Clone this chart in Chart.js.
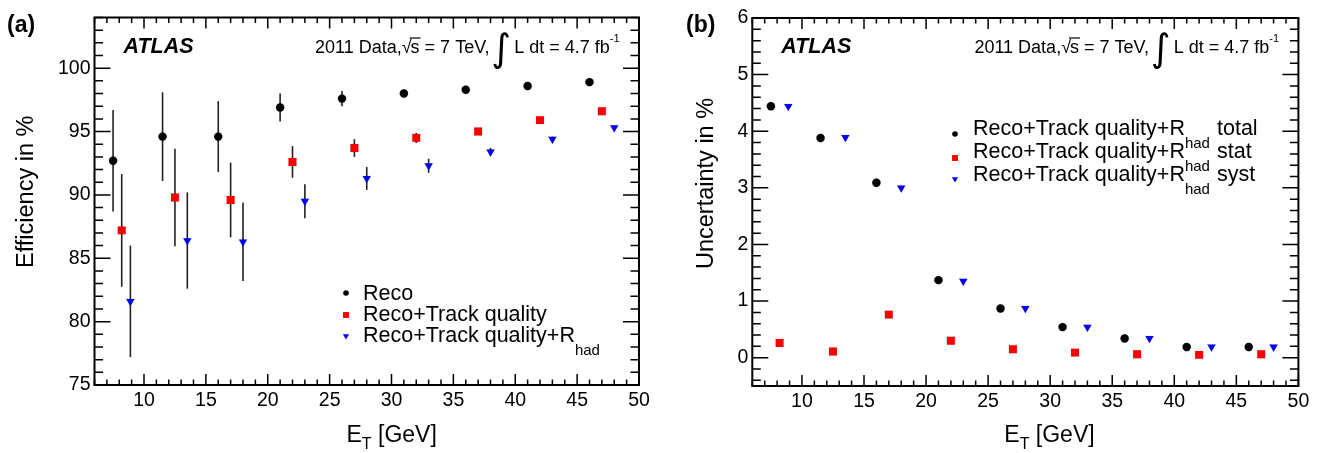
<!DOCTYPE html>
<html lang="en">
<head>
    <meta charset="UTF-8">
    <title>Efficiency and uncertainty vs E_T</title>
    <script src="https://cdn.jsdelivr.net/npm/chart.js"></script>
    <style>
        body {
            margin: 0;
            background-color: #fff;
        }

        .panel {
            position: absolute;
            top: 0;
            width: 659px;
            height: 453px;
        }

        #panelA { left: 0; }
        #panelB { left: 659px; }
    </style>
</head>
<body>
<div class="panel" id="panelA"><canvas id="effChart" width="659" height="453"></canvas></div>
<div class="panel" id="panelB"><canvas id="uncChart" width="659" height="453"></canvas></div>

<script>
    // E_T positions of the three selections (points are shifted inside each bin)
    const etReco  = [7.5, 11.5, 16, 21, 26, 31, 36, 41, 46];
    const etTrack = [8.2, 12.5, 17, 22, 27, 32, 37, 42, 47];
    const etRhad  = [8.9, 13.5, 18, 23, 28, 33, 38, 43, 48];

    // (a) efficiencies in % with total uncertainty
    const effReco  = [92.7, 94.6, 94.6, 96.9, 97.6, 98.0, 98.3, 98.6, 98.9];
    const errReco  = [4.0, 3.5, 2.8, 1.1, 0.6, 0.2, 0.1, 0.1, 0.1];
    const effTrack = [87.2, 89.8, 89.6, 92.6, 93.7, 94.5, 95.0, 95.9, 96.6];
    const errTrack = [4.45, 3.85, 2.95, 1.25, 0.7, 0.4, 0.2, 0.2, 0.15];
    const effRhad  = [81.6, 86.4, 86.3, 89.5, 91.3, 92.3, 93.4, 94.4, 95.3];
    const errRhad  = [4.4, 3.8, 3.1, 1.35, 0.9, 0.55, 0.3, 0.2, 0.2];

    // (b) uncertainties in % for Reco+Track quality+R_had
    const uncTotal = [4.44, 3.88, 3.09, 1.37, 0.87, 0.54, 0.34, 0.19, 0.19];
    const uncStat  = [0.26, 0.11, 0.76, 0.30, 0.15, 0.09, 0.06, 0.05, 0.06];
    const uncSyst  = [4.44, 3.89, 3.00, 1.35, 0.87, 0.54, 0.34, 0.19, 0.19];

    // tick labels
    const xTickValues  = [10, 15, 20, 25, 30, 35, 40, 45, 50];
    const effTickValues = [75, 80, 85, 90, 95, 100];
    const uncTickValues = [0, 1, 2, 3, 4, 5, 6];

    const FONT = "'Liberation Sans', Arial, Helvetica, sans-serif";

    const toPoints = (xs, ys) => xs.map((x, i) => ({x: x, y: ys[i]}));

    const circleStyle = {pointStyle: 'circle', pointRadius: 4.2, backgroundColor: '#000000', rotation: 0};
    const squareStyle = {pointStyle: 'rect', pointRadius: 5.6, backgroundColor: '#ff0000', rotation: 0};
    const triangleStyle = {pointStyle: 'triangle', pointRadius: 4.8, backgroundColor: '#0000ff', rotation: 180};

    // vertical error bars, drawn under the markers
    const errorBars = {
        id: 'errorBars',
        beforeDatasetsDraw(chart) {
            const ctx = chart.ctx;
            const y = chart.scales.y;
            ctx.save();
            ctx.strokeStyle = '#222222';
            ctx.lineWidth = 1.6;
            chart.data.datasets.forEach((ds, i) => {
                if (!ds.yErr) return;
                chart.getDatasetMeta(i).data.forEach((pt, j) => {
                    const v = ds.data[j].y, e = ds.yErr[j];
                    ctx.beginPath();
                    ctx.moveTo(pt.x, y.getPixelForValue(v - e));
                    ctx.lineTo(pt.x, y.getPixelForValue(v + e));
                    ctx.stroke();
                });
            });
            ctx.restore();
        }
    };

    // ROOT-like frame with inward ticks on all four sides
    const rootFrame = {
        id: 'rootFrame',
        afterDraw(chart, args, opts) {
            const {ctx, chartArea: a, scales: {x, y}} = chart;
            const eachTick = (sc, step, major, fn) => {
                const k0 = Math.ceil(sc.min / step - 1e-9);
                const k1 = Math.floor(sc.max / step + 1e-9);
                const every = Math.round(major / step);
                for (let k = k0; k <= k1; k++) fn(sc.getPixelForValue(k * step), k % every === 0);
            };
            ctx.save();
            ctx.strokeStyle = '#000';
            ctx.lineWidth = 1.5;
            ctx.beginPath();
            eachTick(x, opts.xMinor, opts.xMajor, (px, big) => {
                const l = big ? 11 : 5.5;
                ctx.moveTo(px, a.bottom); ctx.lineTo(px, a.bottom - l);
                ctx.moveTo(px, a.top); ctx.lineTo(px, a.top + l);
            });
            eachTick(y, opts.yMinor, opts.yMajor, (py, big) => {
                const l = big ? 16 : 8.5;
                ctx.moveTo(a.left, py); ctx.lineTo(a.left + l, py);
                ctx.moveTo(a.right, py); ctx.lineTo(a.right - l, py);
            });
            ctx.stroke();
            ctx.lineWidth = 2;
            ctx.strokeRect(a.left, a.top, a.width, a.height);
            ctx.restore();
        }
    };

    // panel label, axis titles, ATLAS text and legend
    const rootText = {
        id: 'rootText',
        afterDraw(chart, args, o) {
            const {ctx, chartArea: a} = chart;
            ctx.save();
            ctx.fillStyle = '#000';
            ctx.textBaseline = 'alphabetic';
            ctx.textAlign = 'left';

            ctx.font = 'bold 23px ' + FONT;
            ctx.fillText(o.panel, o.panelX, 32);

            // x title E_T [GeV]
            let tx = a.left + 252;
            ctx.font = '23px ' + FONT;
            ctx.fillText('E', tx, 442);
            tx += ctx.measureText('E').width;
            ctx.font = '16px ' + FONT;
            ctx.fillText('T', tx, 449);
            tx += ctx.measureText('T').width;
            ctx.font = '23px ' + FONT;
            ctx.fillText(' [GeV]', tx, 442);

            // y title
            ctx.save();
            ctx.translate(o.yTitleX, a.bottom - 117);
            ctx.rotate(-Math.PI / 2);
            ctx.textBaseline = 'middle';
            ctx.font = '23.5px ' + FONT;
            ctx.fillText(o.yTitle, 0, 0);
            ctx.restore();

            // ATLAS
            ctx.font = 'italic bold 21.5px ' + FONT;
            ctx.fillText('ATLAS', a.left + 29, 53);

            // 2011 Data, sqrt(s) = 7 TeV, int L dt = 4.7 fb^-1
            let cx = a.right - 324;
            const by = 53;
            ctx.font = '18px ' + FONT;
            ctx.fillText('2011 Data,', cx, by);
            cx += ctx.measureText('2011 Data,').width;
            ctx.fillText('\u221A', cx, by);
            cx += ctx.measureText('\u221A').width - 1;
            const sW = ctx.measureText('s').width;
            ctx.fillText('s', cx, by);
            ctx.lineWidth = 1.2;
            ctx.beginPath();
            ctx.moveTo(cx - 1, by - 15);
            ctx.lineTo(cx + sW + 1, by - 15);
            ctx.stroke();
            cx += sW;
            ctx.fillText(' = 7 TeV,', cx, by);
            cx += ctx.measureText(' = 7 TeV,').width + 2;
            ctx.font = "38px 'DejaVu Sans', sans-serif";
            ctx.fillText('\u222B', cx, by + 8);
            cx += ctx.measureText('\u222B').width + 3;
            ctx.font = '18px ' + FONT;
            ctx.fillText('L dt = 4.7 fb', cx, by);
            cx += ctx.measureText('L dt = 4.7 fb').width;
            ctx.font = '11px ' + FONT;
            ctx.fillText('-1', cx, by - 11);

            // legend
            const lg = o.legend;
            chart.data.datasets.forEach((ds, i) => {
                const it = lg.items[i];
                ctx.fillStyle = ds.backgroundColor;
                Chart.helpers.drawPoint(ctx, {
                    pointStyle: ds.pointStyle,
                    rotation: ds.rotation,
                    radius: lg.radius[i],
                    borderWidth: 0
                }, lg.markerX, lg.markerY[i]);
                ctx.fillStyle = '#000';
                ctx.font = lg.size + 'px ' + FONT;
                ctx.fillText(it.text, lg.textX, lg.baseY[i]);
                if (it.sub) {
                    const w = ctx.measureText(it.text).width;
                    ctx.font = '15px ' + FONT;
                    ctx.fillText(it.sub, lg.textX + w, lg.baseY[i] + 13);
                }
                if (it.suffix) {
                    ctx.font = lg.size + 'px ' + FONT;
                    ctx.fillText(it.suffix, lg.suffixX, lg.baseY[i]);
                }
            });
            ctx.restore();
        }
    };

    function makeChart(id, datasets, yCfg, extra) {
        const ctx = document.getElementById(id).getContext('2d');
        return new Chart(ctx, {
            type: 'scatter',
            data: {datasets: datasets},
            options: {
                responsive: false,
                animation: false,
                events: [],
                layout: {padding: {top: extra.top, right: extra.right, bottom: 0, left: 0}},
                scales: {
                    x: {
                        type: 'linear',
                        min: 6,
                        max: 50,
                        afterBuildTicks: s => { s.ticks = xTickValues.map(v => ({value: v})); },
                        afterFit: s => { s.height = extra.xHeight; },
                        grid: {display: false, drawTicks: false},
                        border: {display: false},
                        ticks: {
                            color: '#000',
                            padding: 4,
                            maxRotation: 0,
                            autoSkip: false,
                            font: {family: FONT, size: 19.5}
                        }
                    },
                    y: {
                        type: 'linear',
                        min: yCfg.min,
                        max: yCfg.max,
                        afterBuildTicks: s => { s.ticks = yCfg.ticks.map(v => ({value: v})); },
                        afterFit: s => { s.width = extra.yWidth; },
                        grid: {display: false, drawTicks: false},
                        border: {display: false},
                        ticks: {
                            color: '#000',
                            padding: 4,
                            autoSkip: false,
                            font: {family: FONT, size: 19.5}
                        }
                    }
                },
                plugins: {
                    legend: {display: false},
                    tooltip: {enabled: false},
                    rootFrame: {xMinor: 1, xMajor: 5, yMinor: yCfg.minor, yMajor: yCfg.major},
                    rootText: extra.text
                }
            },
            plugins: [errorBars, rootFrame, rootText]
        });
    }

    makeChart('effChart', [
        Object.assign({label: 'Reco', data: toPoints(etReco, effReco), yErr: errReco}, circleStyle),
        Object.assign({label: 'Reco+Track quality', data: toPoints(etTrack, effTrack), yErr: errTrack}, squareStyle),
        Object.assign({label: 'Reco+Track quality+R_had', data: toPoints(etRhad, effRhad), yErr: errRhad}, triangleStyle)
    ], {min: 75, max: 104, ticks: effTickValues, minor: 1, major: 5}, {
        top: 17.5, right: 20, xHeight: 68, yWidth: 94.5,
        text: {
            panel: '(a)', panelX: 7,
            yTitle: 'Efficiency in %', yTitleX: 27,
            legend: {
                size: 21.5, markerX: 346, textX: 363,
                markerY: [293, 315, 336], baseY: [300, 321, 342],
                radius: [2.8, 4.2, 3.6],
                items: [
                    {text: 'Reco'},
                    {text: 'Reco+Track quality'},
                    {text: 'Reco+Track quality+R', sub: 'had'}
                ]
            }
        }
    });

    makeChart('uncChart', [
        Object.assign({label: 'total', data: toPoints(etReco, uncTotal)}, circleStyle),
        Object.assign({label: 'stat', data: toPoints(etTrack, uncStat)}, squareStyle),
        Object.assign({label: 'syst', data: toPoints(etRhad, uncSyst)}, triangleStyle)
    ], {min: -0.5, max: 6, ticks: uncTickValues, minor: 0.2, major: 1}, {
        top: 18, right: 19.6, xHeight: 67, yWidth: 93.3,
        text: {
            panel: '(b)', panelX: 27,
            yTitle: 'Uncertainty in %', yTitleX: 48,
            legend: {
                size: 21.5, markerX: 296, textX: 314,
                markerY: [134, 158, 179], baseY: [135, 158, 181],
                radius: [2.8, 4.2, 3.6], suffixX: 558,
                items: [
                    {text: 'Reco+Track quality+R', sub: 'had', suffix: 'total'},
                    {text: 'Reco+Track quality+R', sub: 'had', suffix: 'stat'},
                    {text: 'Reco+Track quality+R', sub: 'had', suffix: 'syst'}
                ]
            }
        }
    });
</script>
</body>
</html>
